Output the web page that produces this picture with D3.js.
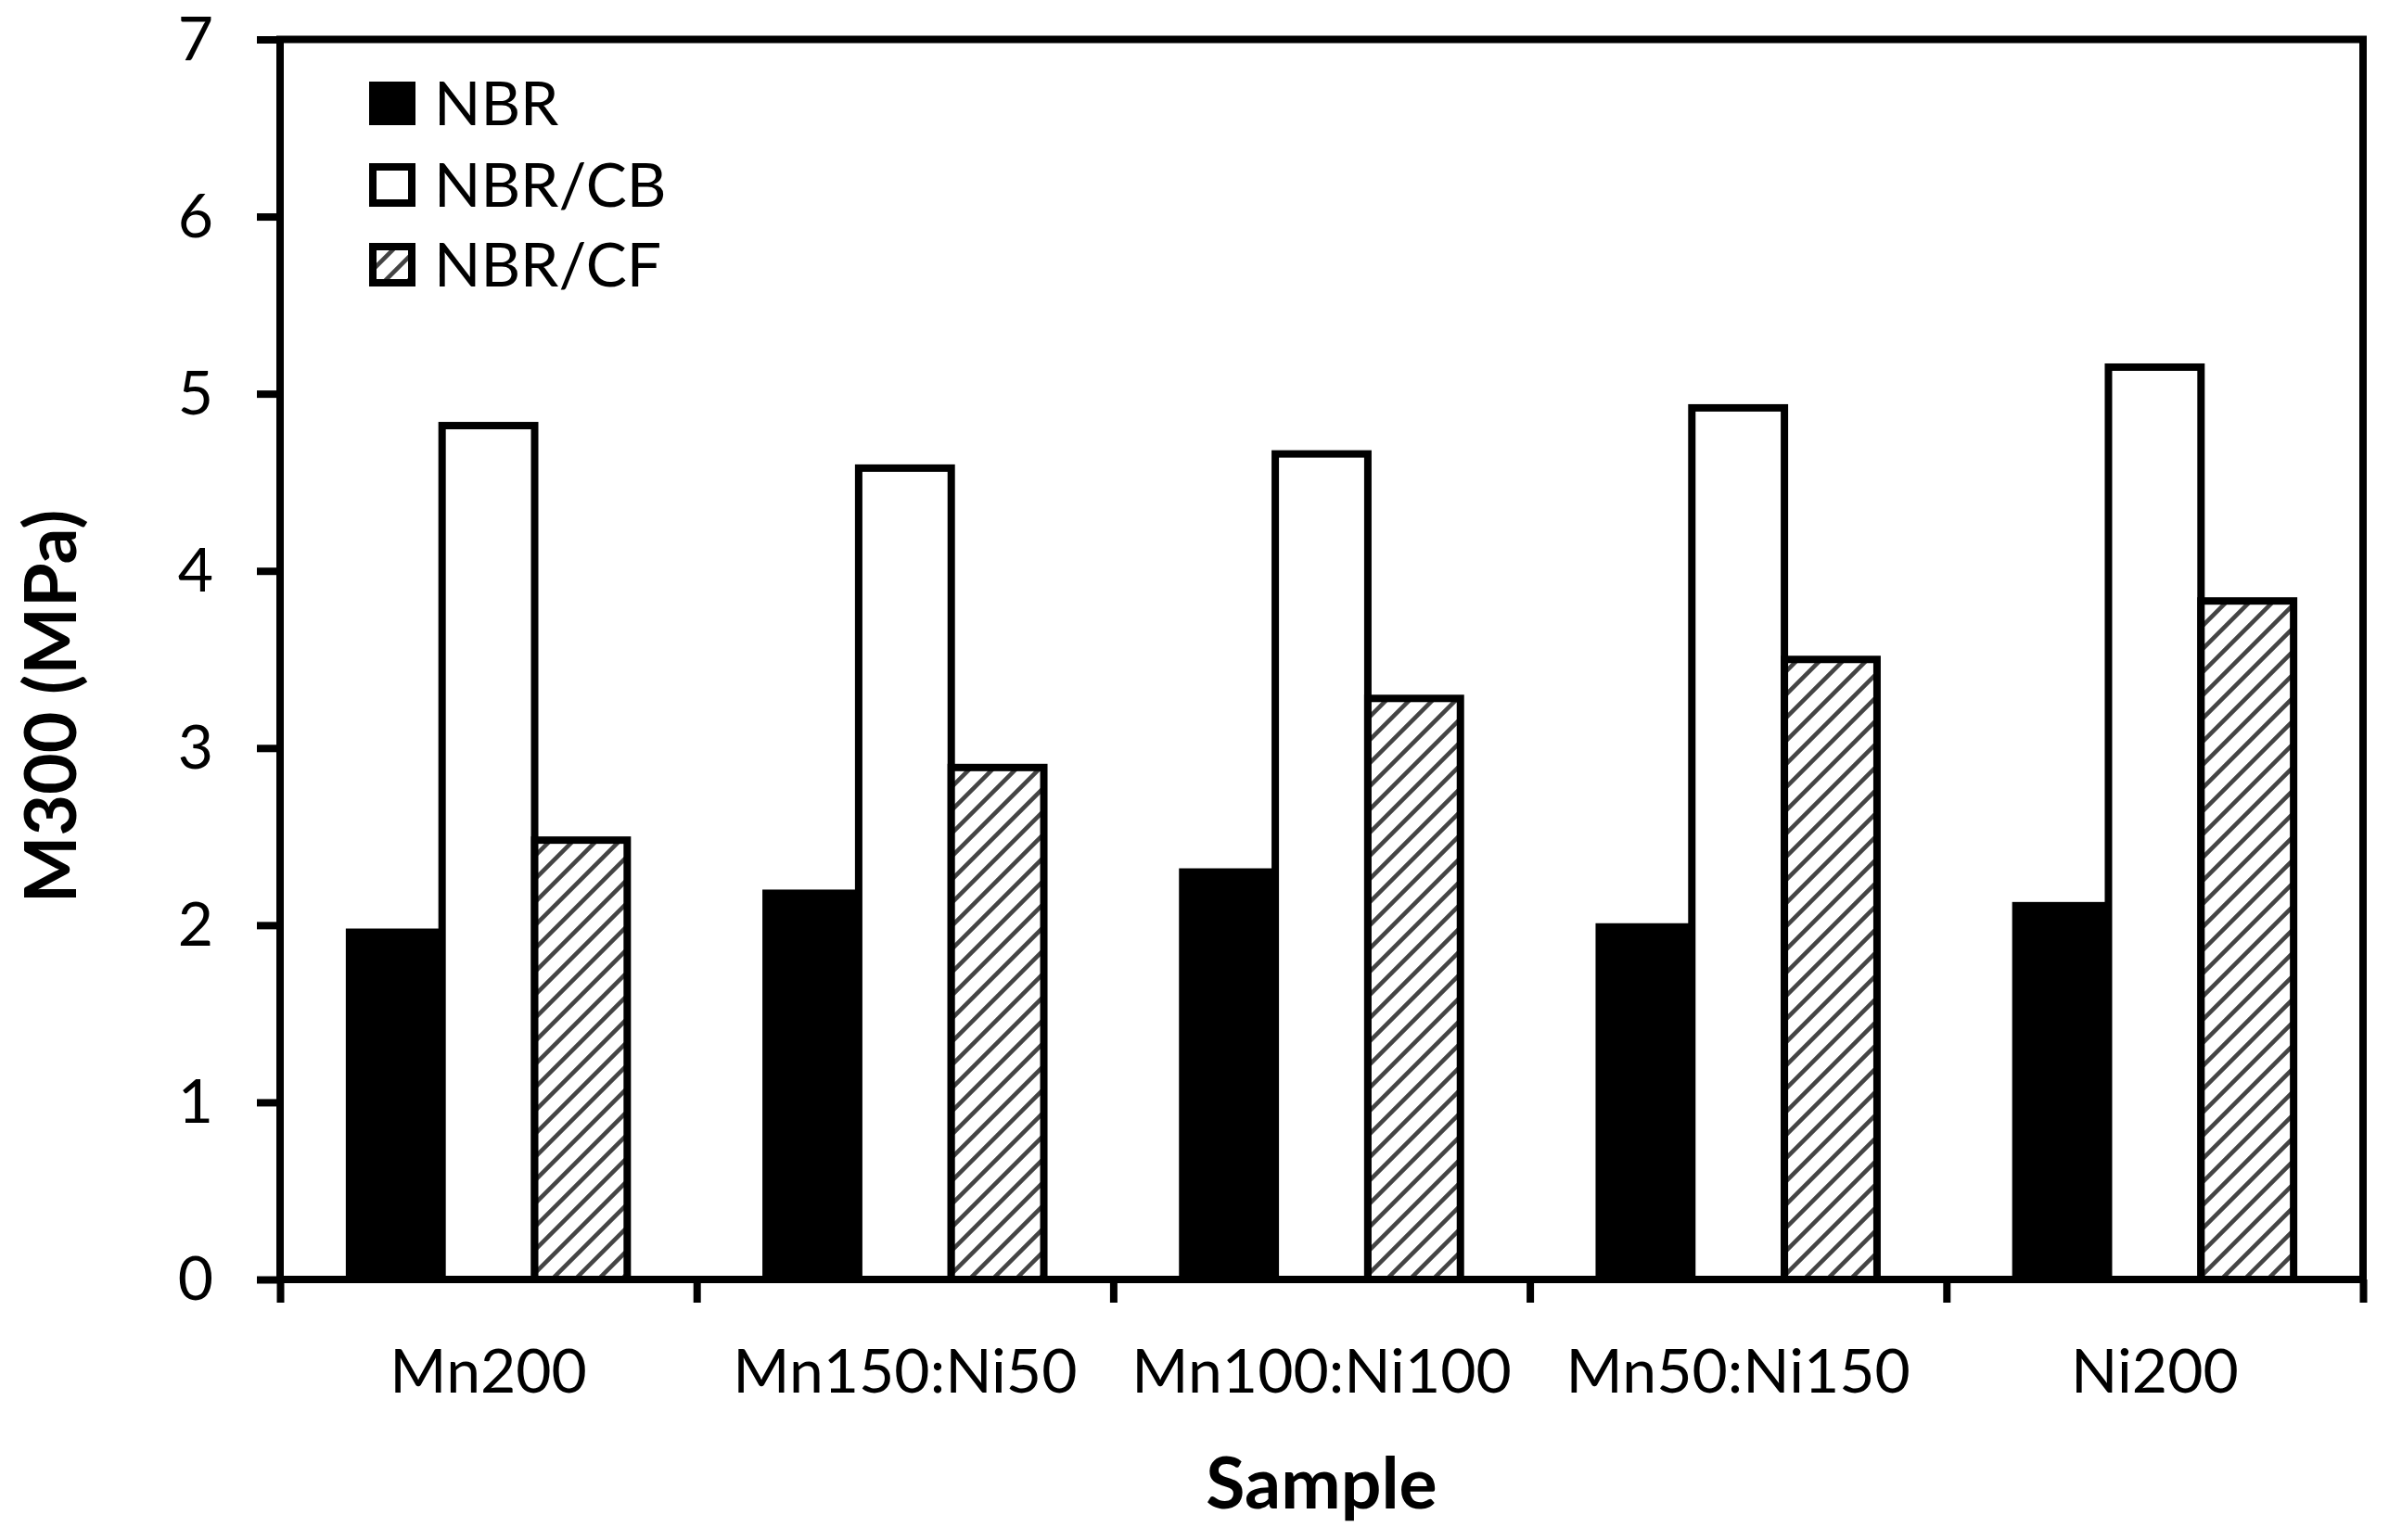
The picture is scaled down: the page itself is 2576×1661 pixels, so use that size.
<!DOCTYPE html>
<html>
<head>
<meta charset="utf-8">
<script src="https://cdn.jsdelivr.net/npm/d3@7"></script>
<style>
  html, body { margin: 0; padding: 0; background: #ffffff; }
  svg { display: block; }
</style>
</head>
<body>
<script>
// ---- data ----
const categories = ["Mn200", "Mn150:Ni50", "Mn100:Ni100", "Mn50:Ni150", "Ni200"];
const seriesNames = ["NBR", "NBR/CB", "NBR/CF"];
const nbrValues   = [1.96, 2.18, 2.30, 1.99, 2.11];
const nbrCBValues = [4.82, 4.58, 4.66, 4.92, 5.15];
const nbrCFValues = [2.48, 2.89, 3.28, 3.50, 3.83];
const yTickValues = [0, 1, 2, 3, 4, 5, 6, 7];
const xTitle = "Sample";
const yTitle = "M300 (MPa)";

(function () {
const seriesValues = [nbrValues, nbrCBValues, nbrCFValues];
const seriesFill = ["#000000", "#ffffff", "url(#hatch)"];

// ---- layout ----
const W = 2576, H = 1661;
const pLeft = 302, pRight = 2548, pTop = 42.5, pBottom = 1380;
const lineW = 8;
const font = "Lato, 'Open Sans', sans-serif";
const labelSize = 66;

const svg = d3.select("body").append("svg")
  .attr("width", W).attr("height", H)
  .attr("viewBox", `0 0 ${W} ${H}`);

svg.append("rect").attr("width", W).attr("height", H).attr("fill", "#fff");

// hatch pattern
const defs = svg.append("defs");
const pat = defs.append("pattern")
  .attr("id", "hatch")
  .attr("patternUnits", "userSpaceOnUse")
  .attr("width", 25).attr("height", 25);
pat.append("rect").attr("width", 25).attr("height", 25).attr("fill", "#fff");
pat.append("path")
  .attr("d", "M-6,6 L6,-6 M0,25 L25,0 M19,31 L31,19")
  .attr("stroke", "#444").attr("stroke-width", 4.6);

// scales
const x0 = d3.scaleBand().domain(categories).range([pLeft, pRight]).paddingInner(0).paddingOuter(0);
const x1 = d3.scaleBand().domain(seriesNames).range([0, x0.bandwidth()]).paddingInner(0).paddingOuter(0.75);
const y = d3.scaleLinear().domain([0, 7]).range([pBottom, pTop]);
const xEdge = d3.scaleLinear().domain([0, categories.length]).range([pLeft, pRight]);

// bars
const rows = [];
categories.forEach((c, i) => {
  seriesNames.forEach((s, j) => rows.push({cat: c, ser: s, j: j, v: seriesValues[j][i]}));
});
svg.append("g").selectAll("rect").data(rows).join("rect")
  .attr("x", d => x0(d.cat) + x1(d.ser))
  .attr("y", d => y(d.v))
  .attr("width", x1.bandwidth())
  .attr("height", d => y(0) - y(d.v))
  .attr("fill", d => seriesFill[d.j])
  .attr("stroke", "#000")
  .attr("stroke-width", lineW);

// frame
svg.append("rect")
  .attr("x", pLeft).attr("y", pTop)
  .attr("width", pRight - pLeft).attr("height", pBottom - pTop)
  .attr("fill", "none").attr("stroke", "#000").attr("stroke-width", lineW);

// y axis
const yAxis = svg.append("g").attr("transform", `translate(${pLeft},0)`)
  .call(d3.axisLeft(y).tickValues(yTickValues).tickFormat(d3.format("d")).tickSize(25).tickPadding(47));
yAxis.select(".domain").remove();
yAxis.selectAll(".tick line").attr("stroke", "#000").attr("stroke-width", lineW);
yAxis.selectAll(".tick text")
  .attr("font-family", font).attr("font-size", labelSize).attr("fill", "#000")
  .attr("dy", "0.33em");

// x axis boundary ticks
const xTicksG = svg.append("g").attr("transform", `translate(0,${pBottom})`)
  .call(d3.axisBottom(xEdge).tickValues(d3.range(categories.length + 1)).tickFormat("").tickSize(25));
xTicksG.select(".domain").remove();
xTicksG.selectAll(".tick line").attr("stroke", "#000").attr("stroke-width", lineW);

// x axis category labels
const xLab = svg.append("g").attr("transform", `translate(0,${pBottom})`)
  .call(d3.axisBottom(x0).tickSize(0).tickPadding(75));
xLab.select(".domain").remove();
xLab.selectAll(".tick text")
  .attr("font-family", font).attr("font-size", labelSize).attr("fill", "#000");

// axis titles
svg.append("text")
  .attr("x", (pLeft + pRight) / 2).attr("y", 1627)
  .attr("text-anchor", "middle")
  .attr("font-family", font).attr("font-weight", "bold").attr("font-size", 77)
  .text(xTitle);

svg.append("text")
  .attr("transform", "translate(82,762) rotate(-90)")
  .attr("text-anchor", "middle")
  .attr("font-family", font).attr("font-weight", "bold").attr("font-size", 77)
  .text(yTitle);

// legend
const legend = svg.append("g");
const legY = [92, 180, 266];
seriesNames.forEach((s, j) => {
  const g = legend.append("g").attr("transform", `translate(402,${legY[j]})`);
  g.append("rect").attr("width", 42).attr("height", 39)
    .attr("fill", seriesFill[j]).attr("stroke", "#000").attr("stroke-width", lineW);
  g.append("text").attr("x", 66).attr("y", 43)
    .attr("font-family", font).attr("font-size", labelSize).attr("fill", "#000")
    .text(s);
});
})();
</script>
</body>
</html>
